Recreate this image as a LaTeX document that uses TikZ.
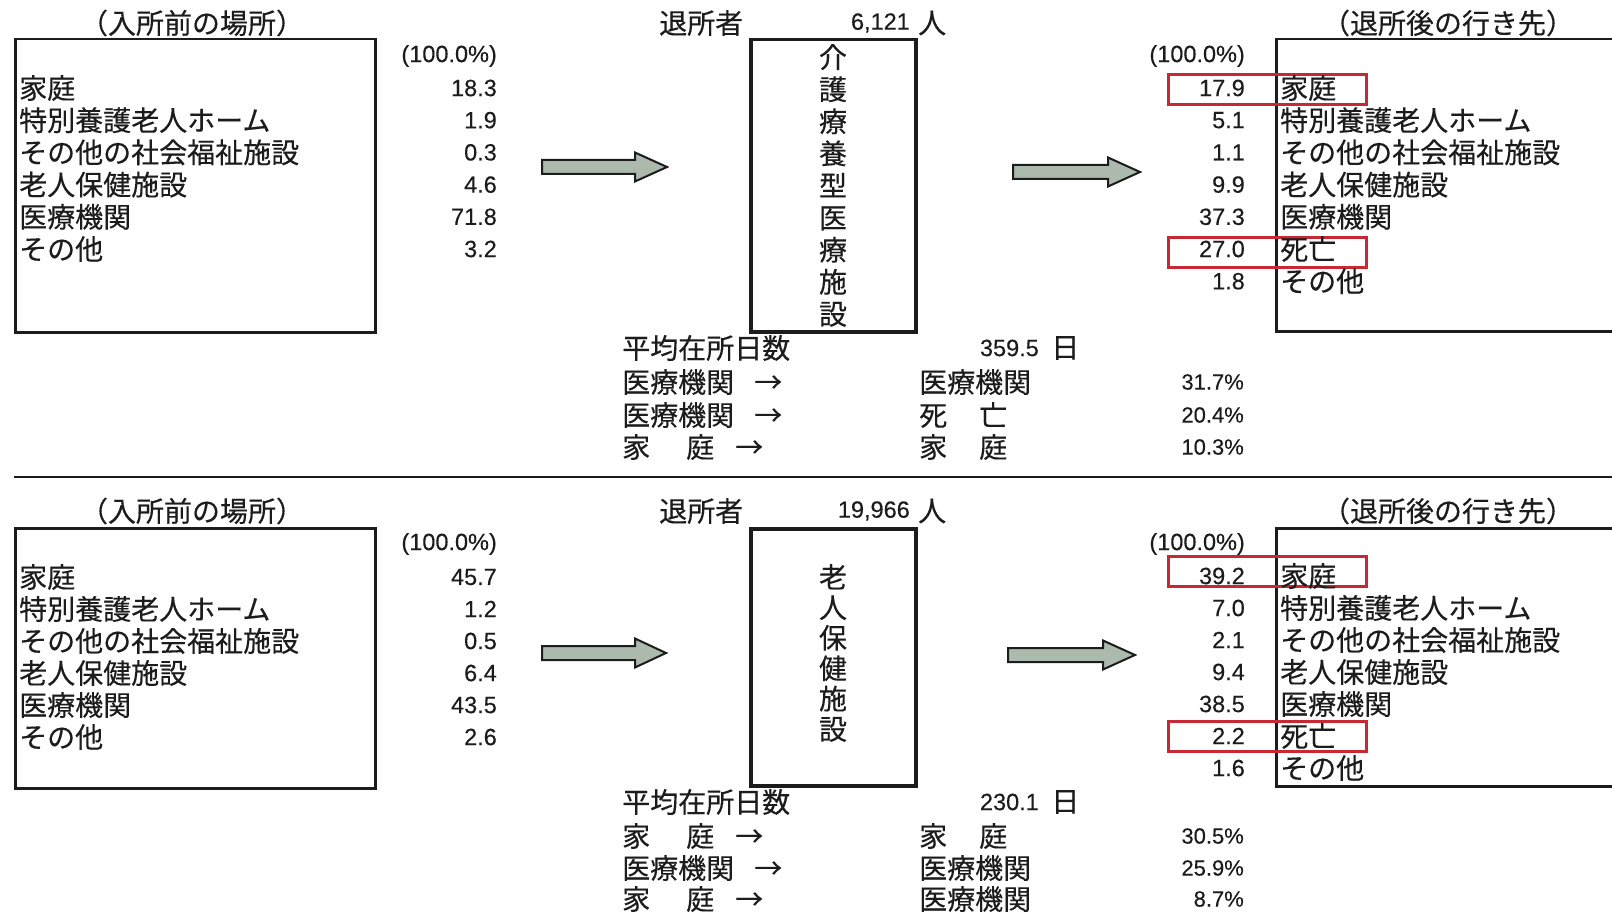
\documentclass[tikz,border=0pt]{standalone}
\usepackage{fontspec}
\setmainfont[FakeBold=0.25]{Liberation Sans}
\newfontfamily\jp[FakeBold=0.3]{Noto Sans CJK JP}
\definecolor{ink}{RGB}{28,28,28}
\definecolor{hlred}{RGB}{200,40,52}
\definecolor{arrowfill}{RGB}{172,186,174}
\newcommand\fatarrow[4]{%
  \draw[blockarrow] (#1,#4-7) -- (#2,#4-7) -- (#2,#4-14.5) -- (#3,#4) -- (#2,#4+14.5) -- (#2,#4+7) -- (#1,#4+7) -- cycle;}
\begin{document}
\begin{tikzpicture}[x=1pt,y=-1pt,
  jp/.style={font=\jp\fontsize{28}{32}\selectfont, inner sep=0pt, text=ink},
  num/.style={font=\fontsize{23.5}{27}\selectfont, inner sep=0pt, text=ink},
  pct/.style={font=\fontsize{22}{27}\selectfont, inner sep=0pt, text=ink},
  vert/.style={font=\jp\fontsize{28}{#1}\selectfont, inner sep=0pt, text=ink, align=center},
  frame/.style={draw=ink, line width=2.5pt, inner sep=0pt, anchor=north west},
  midframe/.style={draw=ink, line width=3.5pt, inner sep=0pt, anchor=north west},
  hl/.style={draw=hlred, line width=2.8pt, inner sep=0pt, anchor=north west, minimum width=198pt, minimum height=30pt},
  blockarrow/.style={draw=ink, line width=2pt, fill=arrowfill, line join=miter}]
\useasboundingbox[fill=white] (0,0) rectangle (1612,912);

% ===== top section =====
\node[jp] (t1in) at (192,23) {（入所前の場所）};
\node[jp] (t1out) at (1448,23) {（退所後の行き先）};
\node[frame, minimum width=360pt, minimum height=293pt] (inbox1) at (14,38) {};
\node[midframe, minimum width=165pt, minimum height=292pt] (mid1) at (749,38) {};
\node[frame, minimum width=400pt, minimum height=292pt] (outbox1) at (1275,38) {};
\node[hl] (hl1a) at (1167,73) {};
\node[hl] (hl1b) at (1167,236) {};

\node[num, anchor=east] (inp1) at (497,56) {(100.0\%)};
\foreach \t [count=\i] in {家庭,特別養護老人ホーム,その他の社会福祉施設,老人保健施設,医療機関,その他}
  \node[jp, anchor=west] (inl1\i) at (19,{88+32.2*(\i-1)}) {\t};
\foreach \v [count=\i] in {18.3,1.9,0.3,4.6,71.8,3.2}
  \node[num, anchor=east] (inv1\i) at (497,{88+32.2*(\i-1)}) {\v};

\node[num, anchor=east] (outp1) at (1245,56) {(100.0\%)};
\foreach \t [count=\i] in {家庭,特別養護老人ホーム,その他の社会福祉施設,老人保健施設,医療機関,死亡,その他}
  \node[jp, anchor=west] (outl1\i) at (1280,{88+32.2*(\i-1)}) {\t};
\foreach \v [count=\i] in {17.9,5.1,1.1,9.9,37.3,27.0,1.8}
  \node[num, anchor=east] (outv1\i) at (1245,{88+32.2*(\i-1)}) {\v};

\node[jp, anchor=west] (lv1) at (659,23) {退所者};
\node[num, anchor=east] (cnt1) at (910,23) {6,121};
\node[jp, anchor=west] (pp1) at (918,23) {人};
\node[vert=32.1] (name1) at (833,185.5) {介\\護\\療\\養\\型\\医\\療\\施\\設};

\node[jp, anchor=west] (avg1) at (622,348) {平均在所日数};
\node[num, anchor=east] (days1) at (1039,348) {359.5};
\node[jp, anchor=west] (day1) at (1051,348) {日};
\node[jp, anchor=west] (fa1) at (622,382) {医療機関\hspace{20pt}→};
\node[jp, anchor=west] (fb1) at (622,415) {医療機関\hspace{20pt}→};
\node[jp, anchor=west] (fc1) at (622,447) {家\hspace{36pt}庭\hspace{21pt}→};
\node[jp, anchor=west] (ta1) at (919,382) {医療機関};
\node[jp, anchor=west] (tb1) at (919,415) {死\hspace{32pt}亡};
\node[jp, anchor=west] (tc1) at (919,447) {家\hspace{32pt}庭};
\node[pct, anchor=east] (pa1) at (1244,382) {31.7\%};
\node[pct, anchor=east] (pb1) at (1244,415) {20.4\%};
\node[pct, anchor=east] (pc1) at (1244,447) {10.3\%};

\fatarrow{542}{635}{667}{167}
\fatarrow{1013}{1108}{1140}{172}

% divider
\draw[draw=ink, line width=1.6pt] (14,477) -- (1612,477);

% ===== bottom section =====
\node[jp] (t2in) at (192,511) {（入所前の場所）};
\node[jp] (t2out) at (1448,511) {（退所後の行き先）};
\node[frame, minimum width=360pt, minimum height=260pt] (inbox2) at (14,527) {};
\node[midframe, minimum width=165pt, minimum height=257pt] (mid2) at (749,527) {};
\node[frame, minimum width=400pt, minimum height=258pt] (outbox2) at (1275,527) {};
\node[hl] (hl2a) at (1167,555) {};
\node[hl] (hl2b) at (1167,720) {};

\node[num, anchor=east] (inp2) at (497,544) {(100.0\%)};
\foreach \t [count=\i] in {家庭,特別養護老人ホーム,その他の社会福祉施設,老人保健施設,医療機関,その他}
  \node[jp, anchor=west] (inl2\i) at (19,{577+32*(\i-1)}) {\t};
\foreach \v [count=\i] in {45.7,1.2,0.5,6.4,43.5,2.6}
  \node[num, anchor=east] (inv2\i) at (497,{577+32*(\i-1)}) {\v};

\node[num, anchor=east] (outp2) at (1245,544) {(100.0\%)};
\foreach \t [count=\i] in {家庭,特別養護老人ホーム,その他の社会福祉施設,老人保健施設,医療機関,死亡,その他}
  \node[jp, anchor=west] (outl2\i) at (1280,{576+32*(\i-1)}) {\t};
\foreach \v [count=\i] in {39.2,7.0,2.1,9.4,38.5,2.2,1.6}
  \node[num, anchor=east] (outv2\i) at (1245,{576+32*(\i-1)}) {\v};

\node[jp, anchor=west] (lv2) at (659,511) {退所者};
\node[num, anchor=east] (cnt2) at (910,511) {19,966};
\node[jp, anchor=west] (pp2) at (918,511) {人};
\node[vert=30.4] (name2) at (833,653) {老\\人\\保\\健\\施\\設};

\node[jp, anchor=west] (avg2) at (622,802) {平均在所日数};
\node[num, anchor=east] (days2) at (1039,802) {230.1};
\node[jp, anchor=west] (day2) at (1051,802) {日};
\node[jp, anchor=west] (fa2) at (622,836) {家\hspace{36pt}庭\hspace{21pt}→};
\node[jp, anchor=west] (fb2) at (622,868) {医療機関\hspace{20pt}→};
\node[jp, anchor=west] (fc2) at (622,899) {家\hspace{36pt}庭\hspace{21pt}→};
\node[jp, anchor=west] (ta2) at (919,836) {家\hspace{32pt}庭};
\node[jp, anchor=west] (tb2) at (919,868) {医療機関};
\node[jp, anchor=west] (tc2) at (919,899) {医療機関};
\node[pct, anchor=east] (pa2) at (1244,836) {30.5\%};
\node[pct, anchor=east] (pb2) at (1244,868) {25.9\%};
\node[pct, anchor=east] (pc2) at (1244,899) {8.7\%};

\fatarrow{542}{635}{666}{653}
\fatarrow{1008}{1103}{1135}{655}
\end{tikzpicture}
\end{document}
